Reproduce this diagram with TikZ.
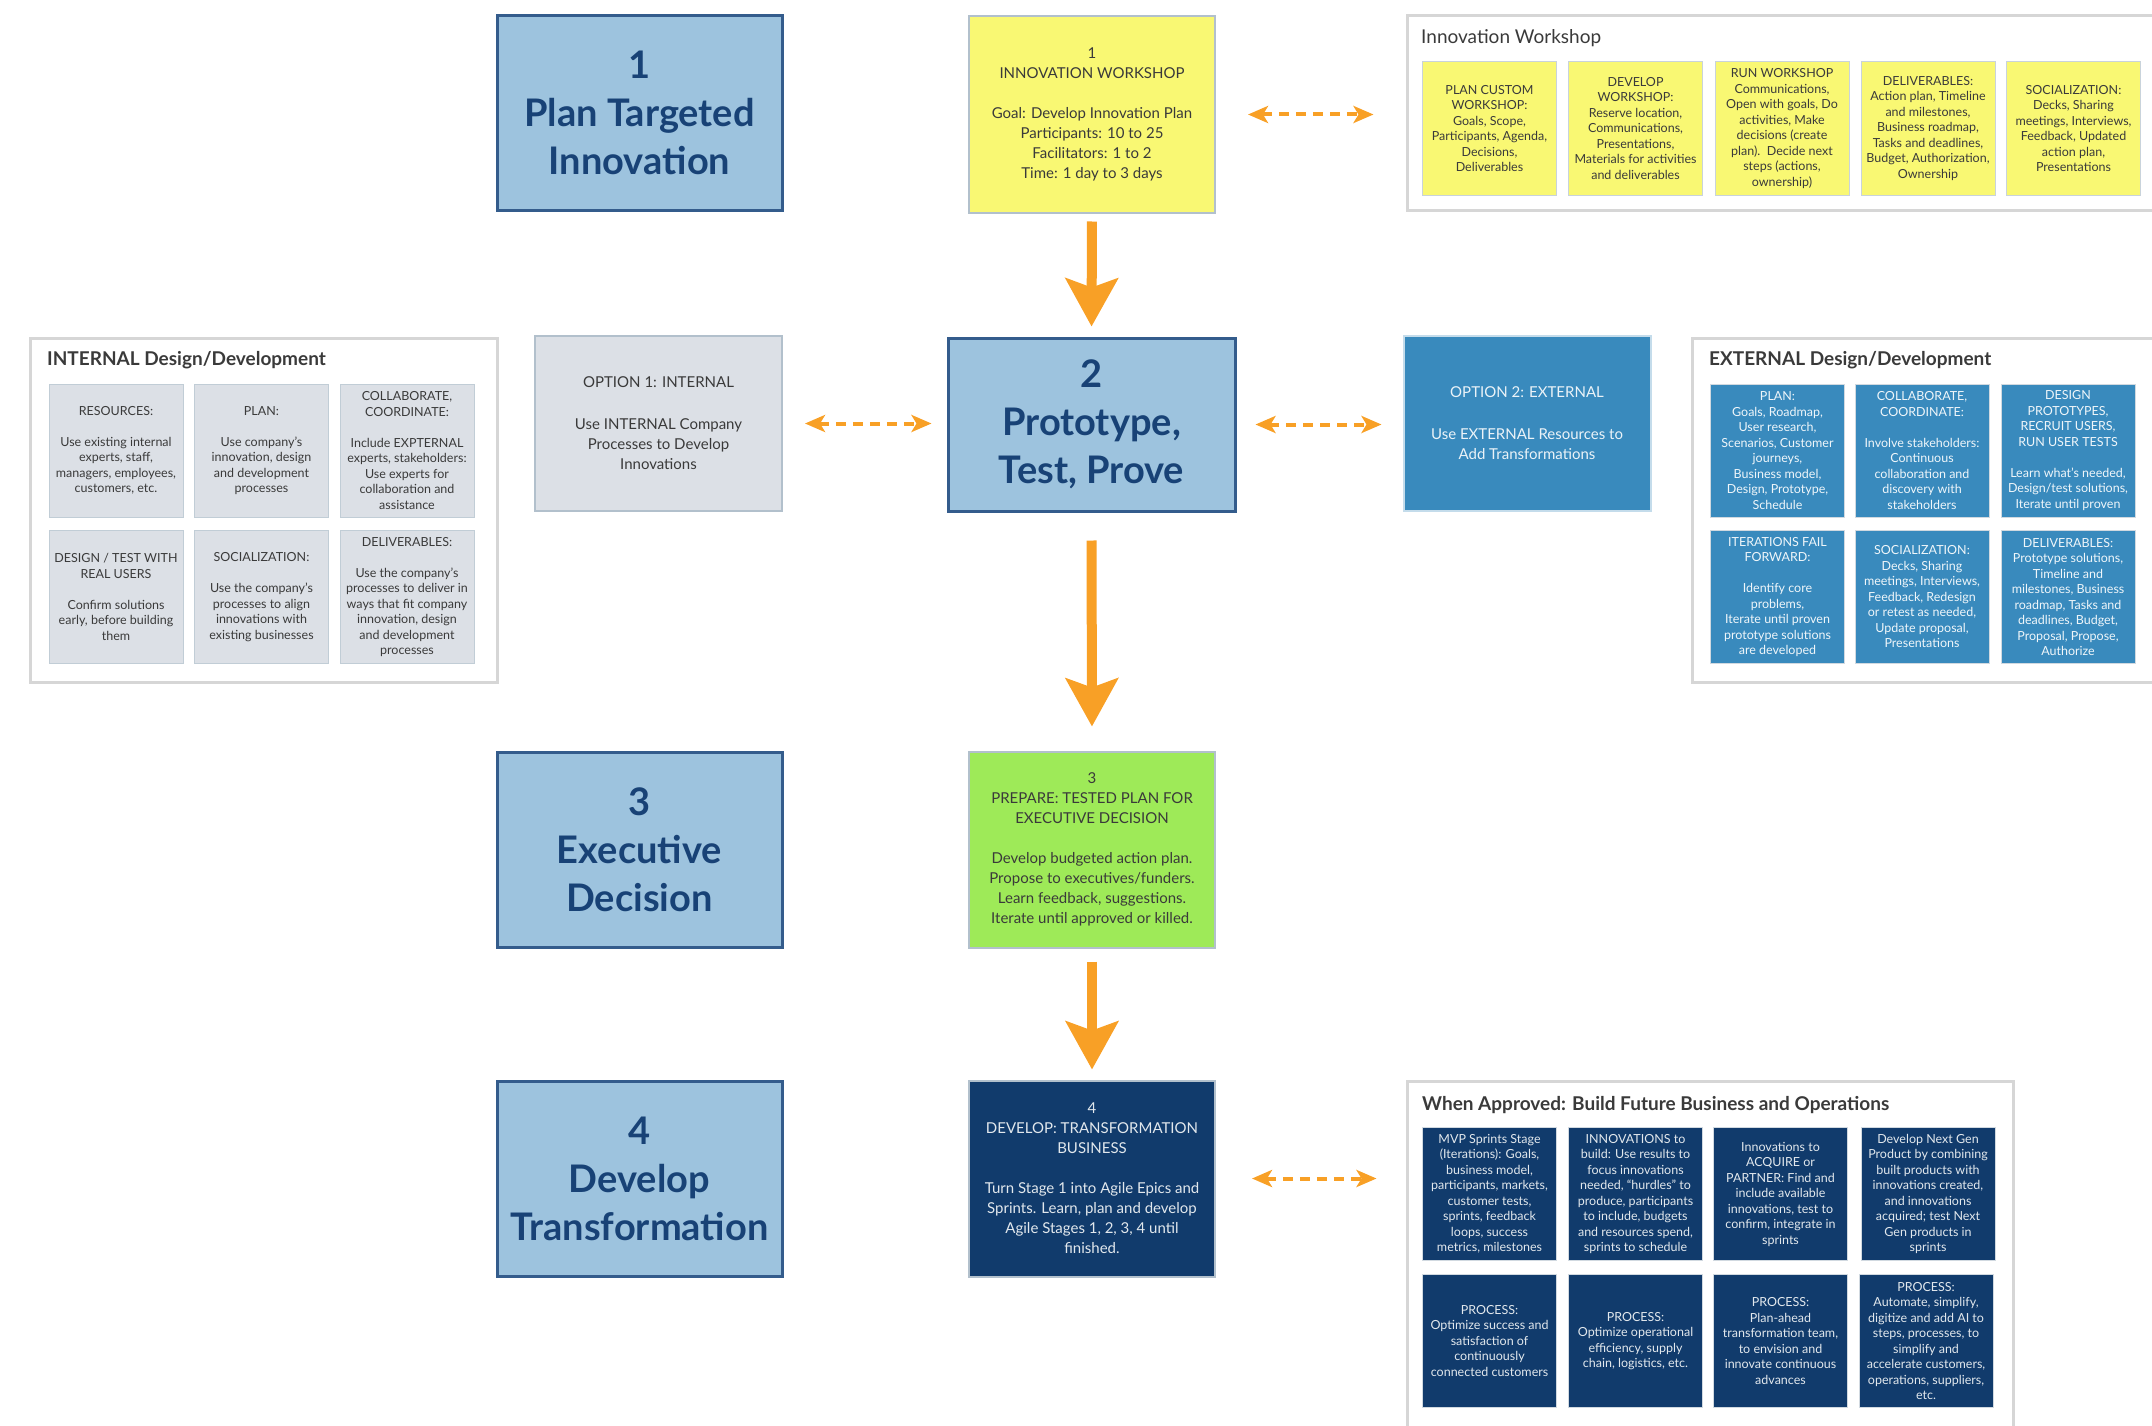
\documentclass[tikz,border=0pt]{standalone}
\usepackage{fontspec}
\setmainfont{Lato}
\usetikzlibrary{arrows.meta, positioning, calc}
\definecolor{stagefill}  {RGB}{157,195,222}
\definecolor{stagedraw}  {RGB}{ 52, 92,140}
\definecolor{stagetext}  {RGB}{ 24, 66,118}
\definecolor{wkyellow}   {RGB}{249,248,115}
\definecolor{prepgreen}  {RGB}{158,234, 88}
\definecolor{navyblue}   {RGB}{ 17, 59,108}
\definecolor{optgray}    {RGB}{220,224,230}
\definecolor{optblue}    {RGB}{ 57,138,189}
\definecolor{boxline}    {RGB}{178,192,204}
\definecolor{framegray}  {RGB}{214,214,214}
\definecolor{titlegray}  {RGB}{ 58, 58, 58}
\definecolor{arroworange}{RGB}{248,160, 38}

\begin{document}
\begin{tikzpicture}[x=1pt,y=-1pt,
	stagebox/.style={draw=stagedraw, line width=3pt, fill=stagefill, text=stagetext, inner sep=0pt,
		minimum width=285pt, minimum height=195pt, align=center, font=\fontsize{38}{48}\selectfont\bfseries},
	mainbox/.style={draw=boxline, line width=2pt, inner sep=0pt, minimum width=246pt, minimum height=196pt,
		align=center, font=\fontsize{15}{20}\selectfont},
	optbox/.style={draw=boxline, line width=2pt, inner sep=0pt, minimum width=247pt, minimum height=175pt,
		align=center, font=\fontsize{15}{20}\selectfont},
	frame/.style={draw=framegray, line width=3pt, fill=white, inner sep=0pt},
	frametitle/.style={anchor=west, inner sep=0pt, text=titlegray, font=\fontsize{19}{22}\selectfont\bfseries},
	cell/.style={inner sep=0pt, minimum width=134pt, minimum height=133pt, align=center,
		font=\fontsize{12.5}{15.5}\selectfont},
	ycell/.style={cell, fill=wkyellow, draw=boxline!70, line width=1pt, text=titlegray},
	gcell/.style={cell, fill=optgray, draw=boxline!80, line width=1pt, text=titlegray},
	bcell/.style={cell, fill=optblue, draw=boxline!60, line width=1pt, text=white!92!optblue},
	ncell/.style={cell, fill=navyblue, draw=boxline!60, line width=1pt, text=white!88!navyblue},
	flowarrow/.style={draw=arroworange, line width=10pt, -{Stealth[length=48pt,width=52pt,inset=9pt]}},
	linkarrow/.style={draw=arroworange, line width=4pt, dash pattern=on 10pt off 7pt,
		{Stealth[length=20pt,width=17pt,inset=5pt]}-{Stealth[length=20pt,width=17pt,inset=5pt]}}
]
\useasboundingbox (0,0) rectangle (2152,1426);
\clip (0,0) rectangle (2152,1426);

\node[stagebox] (plan) at (639.5,113) {1\\Plan Targeted\\Innovation};
\node[stagebox] (exec) at (639.5,849.5) {3\\Executive\\Decision};
\node[stagebox] (devt) at (639.5,1178.5) {4\\Develop\\Transformation};

\node[mainbox, fill=wkyellow, text=titlegray] (wk) at (1092,114.5)
	{1\\INNOVATION WORKSHOP\\[20pt]Goal: Develop Innovation Plan\\Participants: 10 to 25\\Facilitators: 1 to 2\\Time: 1 day to 3 days};
\node[stagebox, minimum width=287pt, minimum height=173pt] (proto) at (1091.5,424.5) {2\\Prototype,\\Test, Prove};
\node[mainbox, fill=prepgreen, text=titlegray] (prep) at (1092,849.5)
	{3\\PREPARE: TESTED PLAN FOR\\EXECUTIVE DECISION\\[20pt]Develop budgeted action plan.\\Propose to executives/funders.\\Learn feedback, suggestions.\\Iterate until approved or killed.};
\node[mainbox, fill=navyblue, text=white!88!navyblue] (build) at (1092,1178.5)
	{4\\DEVELOP: TRANSFORMATION\\BUSINESS\\[20pt]Turn Stage 1 into Agile Epics and\\Sprints. Learn, plan and develop\\Agile Stages 1, 2, 3, 4 until\\finished.};

\node[optbox, fill=optgray, text=titlegray] (opt1) at (658.5,423.5)
	{OPTION 1: INTERNAL\\[22pt]Use INTERNAL Company\\Processes to Develop\\Innovations};
\node[optbox, fill=optblue, draw=white!70!optblue, text=white!90!optblue] (opt2) at (1527,423.5)
	{OPTION 2: EXTERNAL\\[22pt]Use EXTERNAL Resources to\\Add Transformations};

\node[frame, minimum width=765pt, minimum height=194pt] (iwframe) at (1789.5,113) {};
\node[frametitle, font=\fontsize{19}{22}\selectfont] (iwtitle) at (1421,38) {Innovation Workshop};
\node[ycell] (iw1) at (1489.5,128.5) {PLAN CUSTOM\\WORKSHOP:\\Goals, Scope,\\Participants, Agenda,\\Decisions,\\Deliverables};
\node[ycell] (iw2) at (1635.5,128.5) {DEVELOP\\WORKSHOP:\\Reserve location,\\Communications,\\Presentations,\\Materials for activities\\and deliverables};
\node[ycell] (iw3) at (1782,128.5) {RUN WORKSHOP\\Communications,\\Open with goals, Do\\activities, Make\\decisions (create\\plan).\ \ Decide next\\steps (actions,\\ownership)};
\node[ycell] (iw4) at (1928,128.5) {DELIVERABLES:\\Action plan, Timeline\\and milestones,\\Business roadmap,\\Tasks and deadlines,\\Budget, Authorization,\\Ownership};
\node[ycell] (iw5) at (2073.5,128.5) {SOCIALIZATION:\\Decks, Sharing\\meetings, Interviews,\\Feedback, Updated\\action plan,\\Presentations};

\node[frame, minimum width=467pt, minimum height=344pt] (inframe) at (263.5,510) {};
\node[frametitle] (intitle) at (47,360) {INTERNAL Design/Development};
\node[gcell] (in1) at (116,450.5) {RESOURCES:\\[15.5pt]Use existing internal\\experts, staff,\\managers, employees,\\customers, etc.};
\node[gcell] (in2) at (261.5,450.5) {PLAN:\\[15.5pt]Use company's\\innovation, design\\and development\\processes};
\node[gcell] (in3) at (407,450.5) {COLLABORATE,\\COORDINATE:\\[15.5pt]Include EXPTERNAL\\experts, stakeholders:\\Use experts for\\collaboration and\\assistance};
\node[gcell] (in4) at (116,597) {DESIGN / TEST WITH\\REAL USERS\\[15.5pt]Confirm solutions\\early, before building\\them};
\node[gcell] (in5) at (261.5,597) {SOCIALIZATION:\\[15.5pt]Use the company's\\processes to align\\innovations with\\existing businesses};
\node[gcell] (in6) at (407,597) {DELIVERABLES:\\[15.5pt]Use the company's\\processes to deliver in\\ways that fit company\\innovation, design\\and development\\processes};

\node[frame, minimum width=480pt, minimum height=344pt] (exframe) at (1932,510) {};
\node[frametitle] (extitle) at (1709,360) {EXTERNAL Design/Development};
\node[bcell] (ex1) at (1777.5,450.5) {PLAN:\\Goals, Roadmap,\\User research,\\Scenarios, Customer\\journeys,\\Business model,\\Design, Prototype,\\Schedule};
\node[bcell] (ex2) at (1922,450.5) {COLLABORATE,\\COORDINATE:\\[15.5pt]Involve stakeholders:\\Continuous\\collaboration and\\discovery with\\stakeholders};
\node[bcell] (ex3) at (2068,450.5) {DESIGN\\PROTOTYPES,\\RECRUIT USERS,\\RUN USER TESTS\\[15.5pt]Learn what's needed,\\Design/test solutions,\\Iterate until proven};
\node[bcell] (ex4) at (1777.5,597) {ITERATIONS FAIL\\FORWARD:\\[15.5pt]Identify core\\problems,\\Iterate until proven\\prototype solutions\\are developed};
\node[bcell] (ex5) at (1922,597) {SOCIALIZATION:\\Decks, Sharing\\meetings, Interviews,\\Feedback, Redesign\\or retest as needed,\\Update proposal,\\Presentations};
\node[bcell] (ex6) at (2068,597) {DELIVERABLES:\\Prototype solutions,\\Timeline and\\milestones, Business\\roadmap, Tasks and\\deadlines, Budget,\\Proposal, Propose,\\Authorize};

\node[frame, minimum width=606pt, minimum height=365pt] (apframe) at (1710,1263.5) {};
\node[frametitle] (aptitle) at (1422,1105) {When Approved: Build Future Business and Operations};
\node[ncell] (ap1) at (1489.5,1194) {MVP Sprints Stage\\(Iterations): Goals,\\business model,\\participants, markets,\\customer tests,\\sprints, feedback\\loops, success\\metrics, milestones};
\node[ncell] (ap2) at (1635.5,1194) {INNOVATIONS to\\build: Use results to\\focus innovations\\needed, ``hurdles'' to\\produce, participants\\to include, budgets\\and resources spend,\\sprints to schedule};
\node[ncell] (ap3) at (1780.5,1194) {Innovations to\\ACQUIRE or\\PARTNER: Find and\\include available\\innovations, test to\\confirm, integrate in\\sprints};
\node[ncell] (ap4) at (1928,1194) {Develop Next Gen\\Product by combining\\built products with\\innovations created,\\and innovations\\acquired; test Next\\Gen products in\\sprints};
\node[ncell] (ap5) at (1489.5,1341) {PROCESS:\\Optimize success and\\satisfaction of\\continuously\\connected customers};
\node[ncell] (ap6) at (1635.5,1341) {PROCESS:\\Optimize operational\\efficiency, supply\\chain, logistics, etc.};
\node[ncell] (ap7) at (1780.5,1341) {PROCESS:\\Plan-ahead\\transformation team,\\to envision and\\innovate continuous\\advances};
\node[ncell] (ap8) at (1926,1341) {PROCESS:\\Automate, simplify,\\digitize and add AI to\\steps, processes, to\\simplify and\\accelerate customers,\\operations, suppliers,\\etc.};

\draw[flowarrow, shorten <=8pt, shorten >=10pt] (wk.south) -- (proto.north);
\draw[flowarrow, shorten <=28pt, shorten >=24pt] (proto.south) -- (prep.north);
\draw[flowarrow, shorten <=13pt, shorten >=10pt] (prep.south) -- (build.north);

\draw[linkarrow, shorten <=32pt, shorten >=32pt] (wk.east) -- (wk.east -| iwframe.west);
\draw[linkarrow, shorten <=22pt, shorten >=15pt] (opt1.east) -- (opt1.east -| proto.west);
\draw[linkarrow, shorten <=19pt, shorten >=21pt] (proto.east) -- (proto.east -| opt2.west);
\draw[linkarrow, shorten <=36pt, shorten >=29pt] (build.east) -- (build.east -| apframe.west);
\end{tikzpicture}
\end{document}
